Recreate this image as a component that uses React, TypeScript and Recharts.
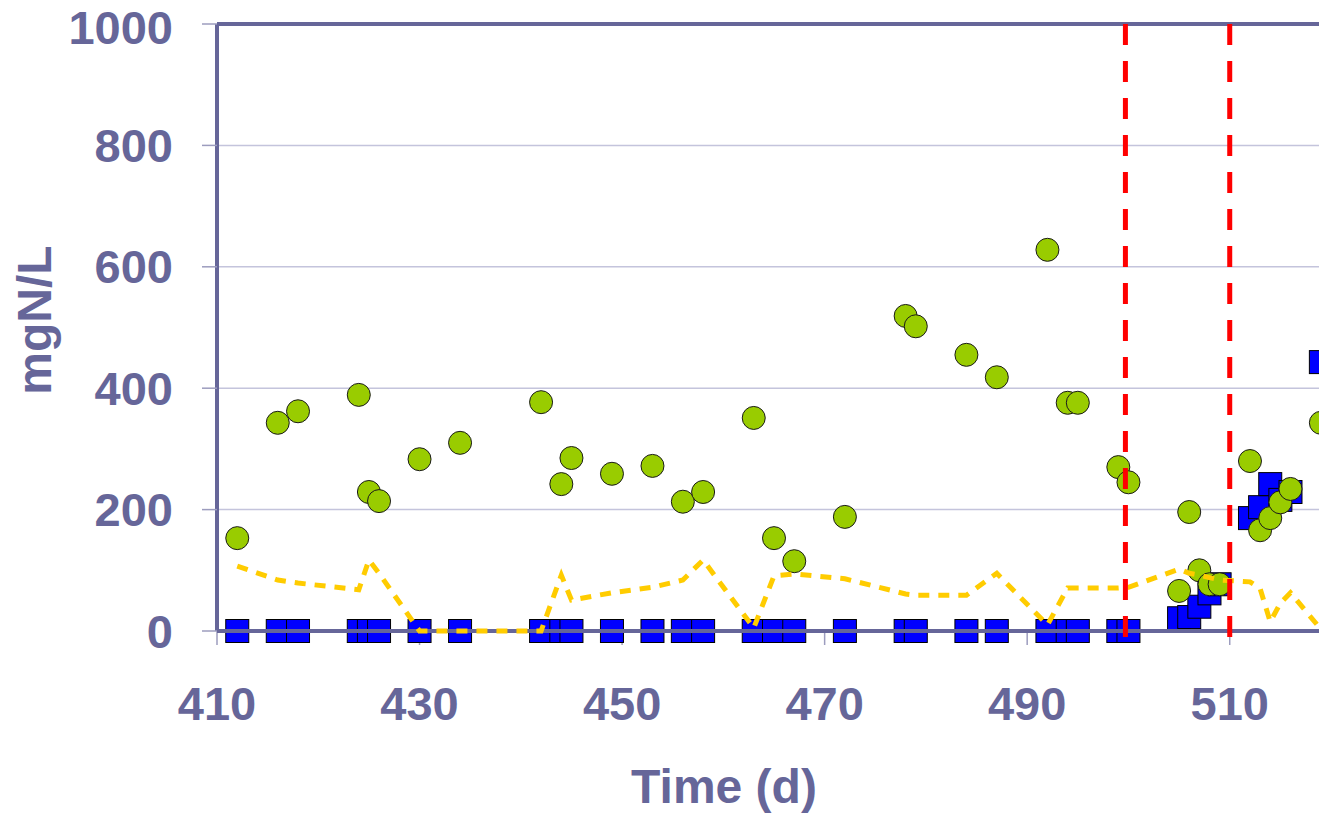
import React from 'react';
import {
  ComposedChart,
  XAxis,
  YAxis,
  CartesianGrid,
  Scatter,
  Line,
  ReferenceLine,
} from 'recharts';

// Blue squares
const squareDays = [412, 416, 418, 424, 425, 426, 430, 434, 442, 444, 445, 449, 453, 456, 458, 463, 465, 467, 472, 478, 479, 484, 487, 492, 494, 495, 499, 500, 505, 506, 507, 508, 509, 512, 513, 514, 515, 516, 519];
const squareValues = [0, 0, 0, 0, 0, 0, 0, 0, 0, 0, 0, 0, 0, 0, 0, 0, 0, 0, 0, 0, 0, 0, 0, 0, 0, 0, 0, 0, 21, 23, 40, 62, 77, 186, 204, 242, 216, 229, 443];

// Green circles
const circleDays = [412, 416, 418, 424, 425, 426, 430, 434, 442, 444, 445, 449, 453, 456, 458, 463, 465, 467, 472, 478, 479, 484, 487, 492, 494, 495, 499, 500, 505, 506, 507, 508, 509, 512, 513, 514, 515, 516, 519];
const circleValues = [153, 343, 362, 389, 229, 214, 283, 310, 377, 242, 285, 259, 272, 213, 229, 351, 153, 115, 188, 519, 502, 455, 418, 628, 376, 376, 270, 245, 66, 196, 100, 77, 77, 280, 166, 186, 212, 234, 343];

// Yellow dashed line
const lineDays = [412, 416, 418, 424, 425, 426, 430, 434, 442, 444, 445, 449, 453, 456, 458, 463, 465, 467, 472, 478, 479, 484, 487, 492, 494, 495, 499, 500, 505, 506, 507, 508, 509, 512, 513, 514, 515, 516, 519];
const lineValues = [107, 84, 79, 68, 117, 95, 0, 0, 0, 92, 51, 63, 72, 84, 117, 5, 91, 94, 86, 61, 59, 59, 95, 10, 71, 71, 71, 72, 102, 95, 92, 88, 84, 81, 70, 15, 46, 63, 3];

// Vertical red dashed markers
const markerDays = [499.7, 510];

const xTicks = [410, 430, 450, 470, 490, 510];
const yTicks = [0, 200, 400, 600, 800, 1000];

const squares = squareDays.map((x, i) => ({ x, y: squareValues[i] }));
const circles = circleDays.map((x, i) => ({ x, y: circleValues[i] }));
const linePts = lineDays.map((x, i) => ({ x, y: lineValues[i] }));

const AXIS = '#666699';
const FONT = '"Liberation Sans", Arial, Helvetica, sans-serif';

const SquareShape = (props: any) => {
  const { cx, cy } = props;
  if (cx == null || cy == null) return null;
  return <rect x={cx - 11.5} y={cy - 11.5} width={23} height={23} fill="#0000FF" stroke="#000000" strokeWidth={1} />;
};

const CircleShape = (props: any) => {
  const { cx, cy } = props;
  if (cx == null || cy == null) return null;
  return <circle cx={cx} cy={cy} r={11.5} fill="#99CC00" stroke="#1a1a1a" strokeWidth={1} />;
};

const tickStyle = { fill: AXIS, fontSize: 47, fontWeight: 'bold', fontFamily: FONT };

export default function App() {
  return (
    <div style={{ position: 'absolute', left: 0, top: 0, width: 1319, height: 814, overflow: 'hidden', background: '#fff' }}>
      <ComposedChart width={1341} height={814} margin={{ top: 24, right: 10, bottom: 0, left: 0 }}>
        <CartesianGrid horizontal vertical={false} stroke="#C4C4DC" strokeWidth={1.5} />
        <XAxis
          type="number"
          dataKey="x"
          domain={[410, 520]}
          ticks={xTicks}
          allowDataOverflow
          height={183}
          axisLine={{ stroke: AXIS, strokeWidth: 4 }}
          tickLine={{ stroke: '#9C9CBE', strokeWidth: 1.5 }}
          tickSize={14}
          tickMargin={42}
          tick={tickStyle}
          label={{
            content: () => (
              <text x={724} y={803} textAnchor="middle" fill={AXIS} fontSize={48} fontWeight="bold" fontFamily={FONT}>
                Time (d)
              </text>
            ),
          }}
        />
        <YAxis
          type="number"
          dataKey="y"
          domain={[0, 1000]}
          ticks={yTicks}
          width={217}
          axisLine={{ stroke: AXIS, strokeWidth: 4 }}
          tickLine={{ stroke: '#9C9CBE', strokeWidth: 1.5 }}
          tickSize={15}
          tickMargin={29}
          tick={tickStyle}
          label={{
            content: () => (
              <text x={51} y={320} transform="rotate(-90, 51, 320)" textAnchor="middle" fill={AXIS} fontSize={48} fontWeight="bold" fontFamily={FONT}>
                mgN/L
              </text>
            ),
          }}
        />
        <ReferenceLine y={1000} stroke={AXIS} strokeWidth={4} zIndex={650} />
        <Scatter data={squares} dataKey="y" shape={SquareShape} isAnimationActive={false} zIndex={600} />
        <ReferenceLine y={0} stroke={AXIS} strokeWidth={4} zIndex={650} />
        <Scatter data={circles} dataKey="y" shape={CircleShape} isAnimationActive={false} zIndex={700} />
        <Line
          data={linePts}
          dataKey="y"
          type="linear"
          stroke="#FFCC00"
          strokeWidth={5}
          strokeDasharray="11 9"
          dot={false}
          activeDot={false}
          isAnimationActive={false}
          zIndex={800}
        />
        {markerDays.map((d) => (
          <ReferenceLine
            key={d}
            segment={[{ x: d, y: 1000 }, { x: d, y: -17 }]}
            ifOverflow="visible"
            stroke="#FF0000"
            strokeWidth={5}
            strokeDasharray="21 16"
            zIndex={900}
          />
        ))}
      </ComposedChart>
    </div>
  );
}
